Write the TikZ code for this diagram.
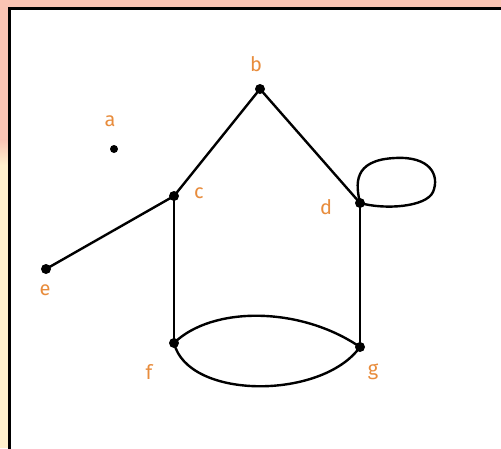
\documentclass[tikz,border=0pt]{standalone}
\usepackage{fontspec}
\setsansfont{Fira Sans}
\definecolor{bgpink}{RGB}{250,196,180}
\definecolor{bgcream}{RGB}{255,241,206}
\definecolor{lblorange}{RGB}{232,140,60}
\begin{document}
\begin{tikzpicture}[x=1pt,y=-1pt,
  vdot/.style={circle,fill=black,inner sep=0pt,minimum size=10pt},
  lbl/.style={text=lblorange,font=\sffamily\fontsize{20}{20}\selectfont,inner sep=0pt},
  edge/.style={draw=black,line width=2.4pt,line cap=round,line join=round}]
\useasboundingbox (0,0) rectangle (501,448);
% background
\fill[bgcream] (0,0) rectangle (501,448);
\fill[bgpink] (0,0) rectangle (501,140);
\shade[top color=bgpink,bottom color=bgcream] (0,139.5) rectangle (12,165);
\fill[white] (9,8) rectangle (501,448);
\draw[line width=3pt] (9.5,450) -- (9.5,8.5) -- (503,8.5);
% vertices
\node[vdot,minimum size=8pt] (a) at (114,149) {};
\node[vdot] (b) at (260,89) {};
\node[vdot] (c) at (174,196) {};
\node[vdot] (d) at (360,203) {};
\node[vdot] (e) at (46,269) {};
\node[vdot] (f) at (174,343) {};
\node[vdot] (g) at (360,347) {};
% labels
\node[lbl] (la) at (110,121) {a};
\node[lbl] (lb) at (256,64) {b};
\node[lbl] (lc) at (199,193) {c};
\node[lbl] (ld) at (326,207) {d};
\node[lbl] (le) at (45,290) {e};
\node[lbl] (lf) at (149,372) {f};
\node[lbl] (lg) at (373,372) {g};
% edges
\draw[edge] (b.center) -- (c.center);
\draw[edge] (b.center) -- (d.center);
\draw[edge] (c.center) -- (e.center);
\draw[edge] (c.center) -- (f.center);
\draw[edge] (d.center) -- (g.center);
\draw[edge] (f.center) .. controls (212,306) and (300,306) .. (g.center);
\draw[edge] (f.center) .. controls (188,400) and (322,400) .. (g.center);
\draw[edge] (d.center) .. controls (356,185) and (352,160) .. (395,158)
  .. controls (430,156) and (440,175) .. (433,192)
  .. controls (426,207) and (385,210) .. (d.center);
\end{tikzpicture}
\end{document}
